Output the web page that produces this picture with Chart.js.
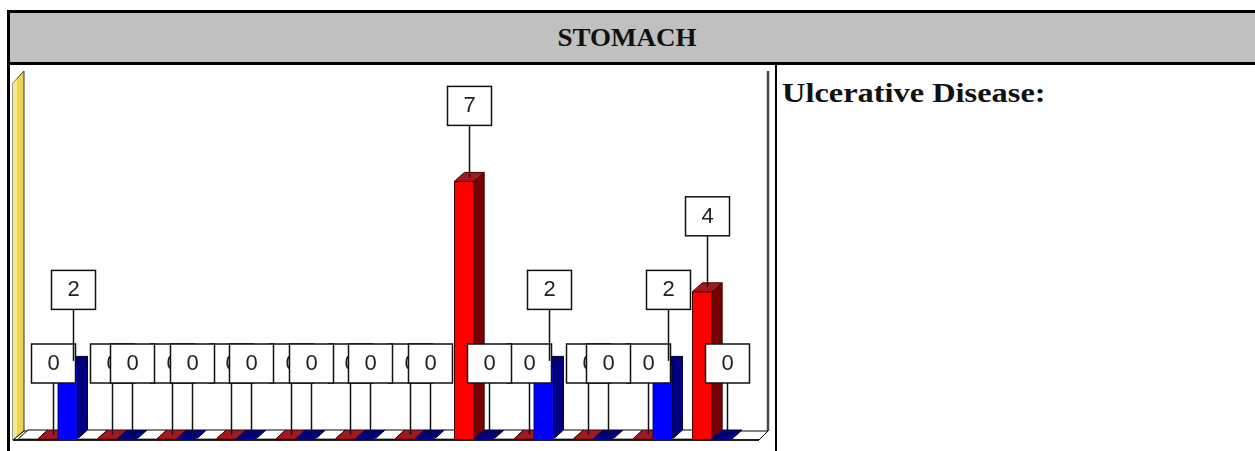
<!DOCTYPE html>
<html><head><meta charset="utf-8">
<script src="https://cdn.jsdelivr.net/npm/chart.js@4.4.0/dist/chart.umd.min.js"></script>
<style>
html,body{margin:0;padding:0;background:#fff;width:1255px;height:451px;overflow:hidden;position:relative;font-family:"Liberation Serif",serif;}
#hdrTop{position:absolute;left:7px;top:10px;width:1248px;height:3px;background:#000}
#hdr{position:absolute;left:10px;top:13px;width:1245px;height:49px;background:#c0c0c0;}
#hdr span{position:absolute;left:617px;top:0;line-height:49px;font-weight:bold;font-size:25px;color:#111;transform:translateX(-50%) scaleX(1.08);white-space:nowrap}
#hdrBot{position:absolute;left:7px;top:62px;width:1248px;height:3px;background:#000}
#leftB{position:absolute;left:7px;top:10px;width:3px;height:441px;background:#000}
#divider{position:absolute;left:775px;top:65px;width:2px;height:386px;background:#000}
#title{position:absolute;left:782px;top:78px;font-weight:bold;font-size:27px;color:#111;white-space:nowrap;transform:scaleX(1.2);transform-origin:0 0}
#chart{position:absolute;left:10px;top:65px;}
</style></head>
<body>
<div id="hdrTop"></div>
<div id="hdr"><span>STOMACH</span></div>
<div id="hdrBot"></div>
<div id="leftB"></div>
<div id="divider"></div>
<div id="title">Ulcerative Disease:</div>
<canvas id="chart" width="766" height="386"></canvas>
<script>
// ---- data ----
const categories = ['1','2','3','4','5','6','7','8','9','10','11','12'];
const seriesNames = ['Series A','Series B','Series C'];
const whiteValues = [0,0,0,0,0,0,0,0,0,0,0,0];
const redValues   = [0,0,0,0,0,0,0,7,0,0,0,4];
const blueValues  = [2,0,0,0,0,0,0,0,2,0,2,0];
const yMin = 0, yMax = 10;

const DX = 10, DY = 9;
const palette = [
  {front:'#ffffff', side:'#d0d0d0', top:'#ffffff', edge:'#000000', labels:false},
  {front:'#ff0000', side:'#780000', top:'#a01a22', edge:'#400000', labels:true},
  {front:'#0000ff', side:'#000080', top:'#000078', edge:'#000050', labels:true}
];

function poly(ctx, pts, fill, stroke, lw){
  ctx.beginPath();
  ctx.moveTo(pts[0][0], pts[0][1]);
  for (let k=1;k<pts.length;k++) ctx.lineTo(pts[k][0], pts[k][1]);
  ctx.closePath();
  if (fill){ ctx.fillStyle = fill; ctx.fill(); }
  if (stroke){ ctx.strokeStyle = stroke; ctx.lineWidth = lw || 1; ctx.stroke(); }
}

const threeD = {
  id: 'threeD',
  beforeDatasetsDraw(chart){
    const ctx = chart.ctx, a = chart.chartArea, b = a.bottom;
    ctx.save();
    // yellow side wall
    poly(ctx, [[a.left-5,b+1],[a.left+6,b-DY+1],[a.left+6,a.top],[a.left-5,a.top+12]], '#eed44e', '#333', 1);
    poly(ctx, [[a.left-5,b+1],[a.left-1,b-3],[a.left-1,a.top+8],[a.left-5,a.top+12]], '#f7e98c', null);
    // floor
    poly(ctx, [[a.left-5,b+1],[a.right+27,b+1],[a.right+36,b-DY+1],[a.left+6,b-DY+1]], '#ffffff', '#000', 1);
    // right frame line
    ctx.strokeStyle = '#4a4a4a'; ctx.lineWidth = 2.5;
    ctx.beginPath(); ctx.moveTo(a.right+36, a.top); ctx.lineTo(a.right+36, b-DY+1); ctx.stroke();
    // side + top faces
    const items = [];
    chart.data.datasets.forEach((ds, d) => {
      chart.getDatasetMeta(d).data.forEach(el => items.push({el, d}));
    });
    items.sort((p,q) => p.el.x - q.el.x);
    items.forEach(({el, d}) => {
      const p = palette[d];
      const x0 = el.x - el.width/2, x1 = el.x + el.width/2, y = el.y, base = el.base;
      if (y < base - 0.5) {
        poly(ctx, [[x1,y],[x1+DX,y-DY],[x1+DX,base-DY],[x1,base]], p.side, p.edge, 1);
      }
      poly(ctx, [[x0,y],[x1,y],[x1+DX,y-DY],[x0+DX,y-DY]], p.top, d===0 ? '#000' : p.edge, 1);
    });
    ctx.restore();
  },
  afterDatasetsDraw(chart){
    const ctx = chart.ctx, a = chart.chartArea, b = a.bottom;
    ctx.save();
    ctx.strokeStyle = '#000'; ctx.lineWidth = 1.5;
    ctx.beginPath(); ctx.moveTo(a.left-5, b+1); ctx.lineTo(a.right+27, b+1); ctx.stroke();
    ctx.font = '22px "Liberation Sans", Arial, sans-serif';
    ctx.textAlign = 'center'; ctx.textBaseline = 'middle';
    chart.data.datasets.forEach((ds, d) => {
      if (!palette[d].labels) return;
      chart.getDatasetMeta(d).data.forEach((el, i) => {
        const cx = Math.round(el.x + DX/2) + 0.5;
        const topY = el.y - DY/2;
        const bb = el.y - 56, bt = bb - 39;
        ctx.strokeStyle = '#111'; ctx.lineWidth = 1.5;
        ctx.beginPath(); ctx.moveTo(cx, bb); ctx.lineTo(cx, topY); ctx.stroke();
        ctx.fillStyle = '#fff';
        ctx.fillRect(cx-22, bt, 44, 39);
        ctx.strokeRect(cx-22, bt, 44, 39);
        ctx.fillStyle = '#222';
        ctx.fillText(String(ds.data[i]), cx, bt + 20);
      });
    });
    ctx.restore();
  }
};

const mk = (label, data, d) => ({
  label, data,
  backgroundColor: palette[d].front,
  borderColor: palette[d].edge,
  borderWidth: c => (c.raw > 0 ? 1 : 0),
  borderSkipped: 'bottom',
  barPercentage: 1, categoryPercentage: 1
});

new Chart(document.getElementById('chart'), {
  type: 'bar',
  data: {
    labels: categories,
    datasets: [
      mk(seriesNames[0], whiteValues, 0),
      mk(seriesNames[1], redValues, 1),
      mk(seriesNames[2], blueValues, 2)
    ]
  },
  options: {
    responsive: false, animation: false, devicePixelRatio: 1,
    layout: { padding: { left: 8, right: 44, top: 6, bottom: 12 } },
    plugins: { legend: { display: false }, tooltip: { enabled: false } },
    scales: {
      x: { display: false },
      y: { display: false, min: yMin, max: yMax }
    }
  },
  plugins: [threeD]
});
</script>
</body></html>
